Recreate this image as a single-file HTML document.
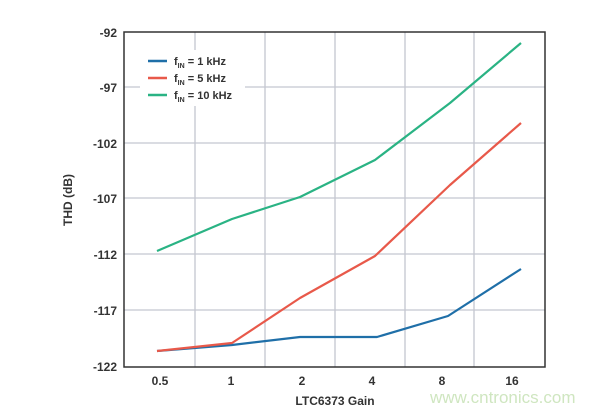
<!DOCTYPE html>
<html><head><style>body{margin:0;background:#fff}svg{display:block}</style></head><body>
<svg width="615" height="413" xmlns="http://www.w3.org/2000/svg" font-family="Liberation Sans, sans-serif">
<g stroke="#c4c6d0" stroke-width="1.3">
<line x1="195" y1="32" x2="195" y2="367"/><line x1="265" y1="32" x2="265" y2="367"/><line x1="335" y1="32" x2="335" y2="367"/><line x1="405" y1="32" x2="405" y2="367"/><line x1="474" y1="32" x2="474" y2="367"/>
<line x1="124" y1="87" x2="545" y2="87"/><line x1="124" y1="143" x2="545" y2="143"/><line x1="124" y1="198" x2="545" y2="198"/><line x1="124" y1="254" x2="545" y2="254"/><line x1="124" y1="310" x2="545" y2="310"/>
</g>
<rect x="140" y="50" width="105" height="56" fill="#fff"/>
<rect x="124" y="32" width="421" height="335" fill="none" stroke="#333" stroke-width="1.5"/>
<g fill="none" stroke-width="2.2" stroke-linejoin="round">
<polyline stroke="#1f6fa8" points="157,351 232,345 300,337 377,337 448,316 521,269"/>
<polyline stroke="#e8594a" points="157,351 232,343 300,298 375,256 450,185 521,123"/>
<polyline stroke="#2ab384" points="157,251 232,219 300,197 375,160 450,103 521,43"/>
</g>
<g stroke-width="2.5"><line x1="148" y1="61" x2="167" y2="61" stroke="#1f6fa8"/><line x1="148" y1="78" x2="167" y2="78" stroke="#e8594a"/><line x1="148" y1="95" x2="167" y2="95" stroke="#2ab384"/></g>
<g font-size="11" font-weight="bold" fill="#333">
<text x="174" y="65">f<tspan font-size="7" dy="3">IN</tspan><tspan dy="-3"> = 1 kHz</tspan></text>
<text x="174" y="82">f<tspan font-size="7" dy="3">IN</tspan><tspan dy="-3"> = 5 kHz</tspan></text>
<text x="174" y="99">f<tspan font-size="7" dy="3">IN</tspan><tspan dy="-3"> = 10 kHz</tspan></text>
</g>
<g font-size="12" font-weight="bold" fill="#333" text-anchor="end">
<text x="117" y="37">-92</text><text x="117" y="92">-97</text><text x="117" y="148">-102</text><text x="117" y="203">-107</text><text x="117" y="259">-112</text><text x="117" y="315">-117</text><text x="117" y="371">-122</text>
</g>
<g font-size="12" font-weight="bold" fill="#333" text-anchor="middle">
<text x="160" y="385">0.5</text><text x="231" y="385">1</text><text x="302" y="385">2</text><text x="372" y="385">4</text><text x="442" y="385">8</text><text x="512" y="385">16</text>
<text x="335" y="405" font-size="12">LTC6373 Gain</text>
<text transform="translate(72,200) rotate(-90)" font-size="12">THD (dB)</text>
</g>
<text x="430" y="403" font-size="17" fill="#cfe6c0">www.cntronics.com</text>
</svg>
</body></html>
